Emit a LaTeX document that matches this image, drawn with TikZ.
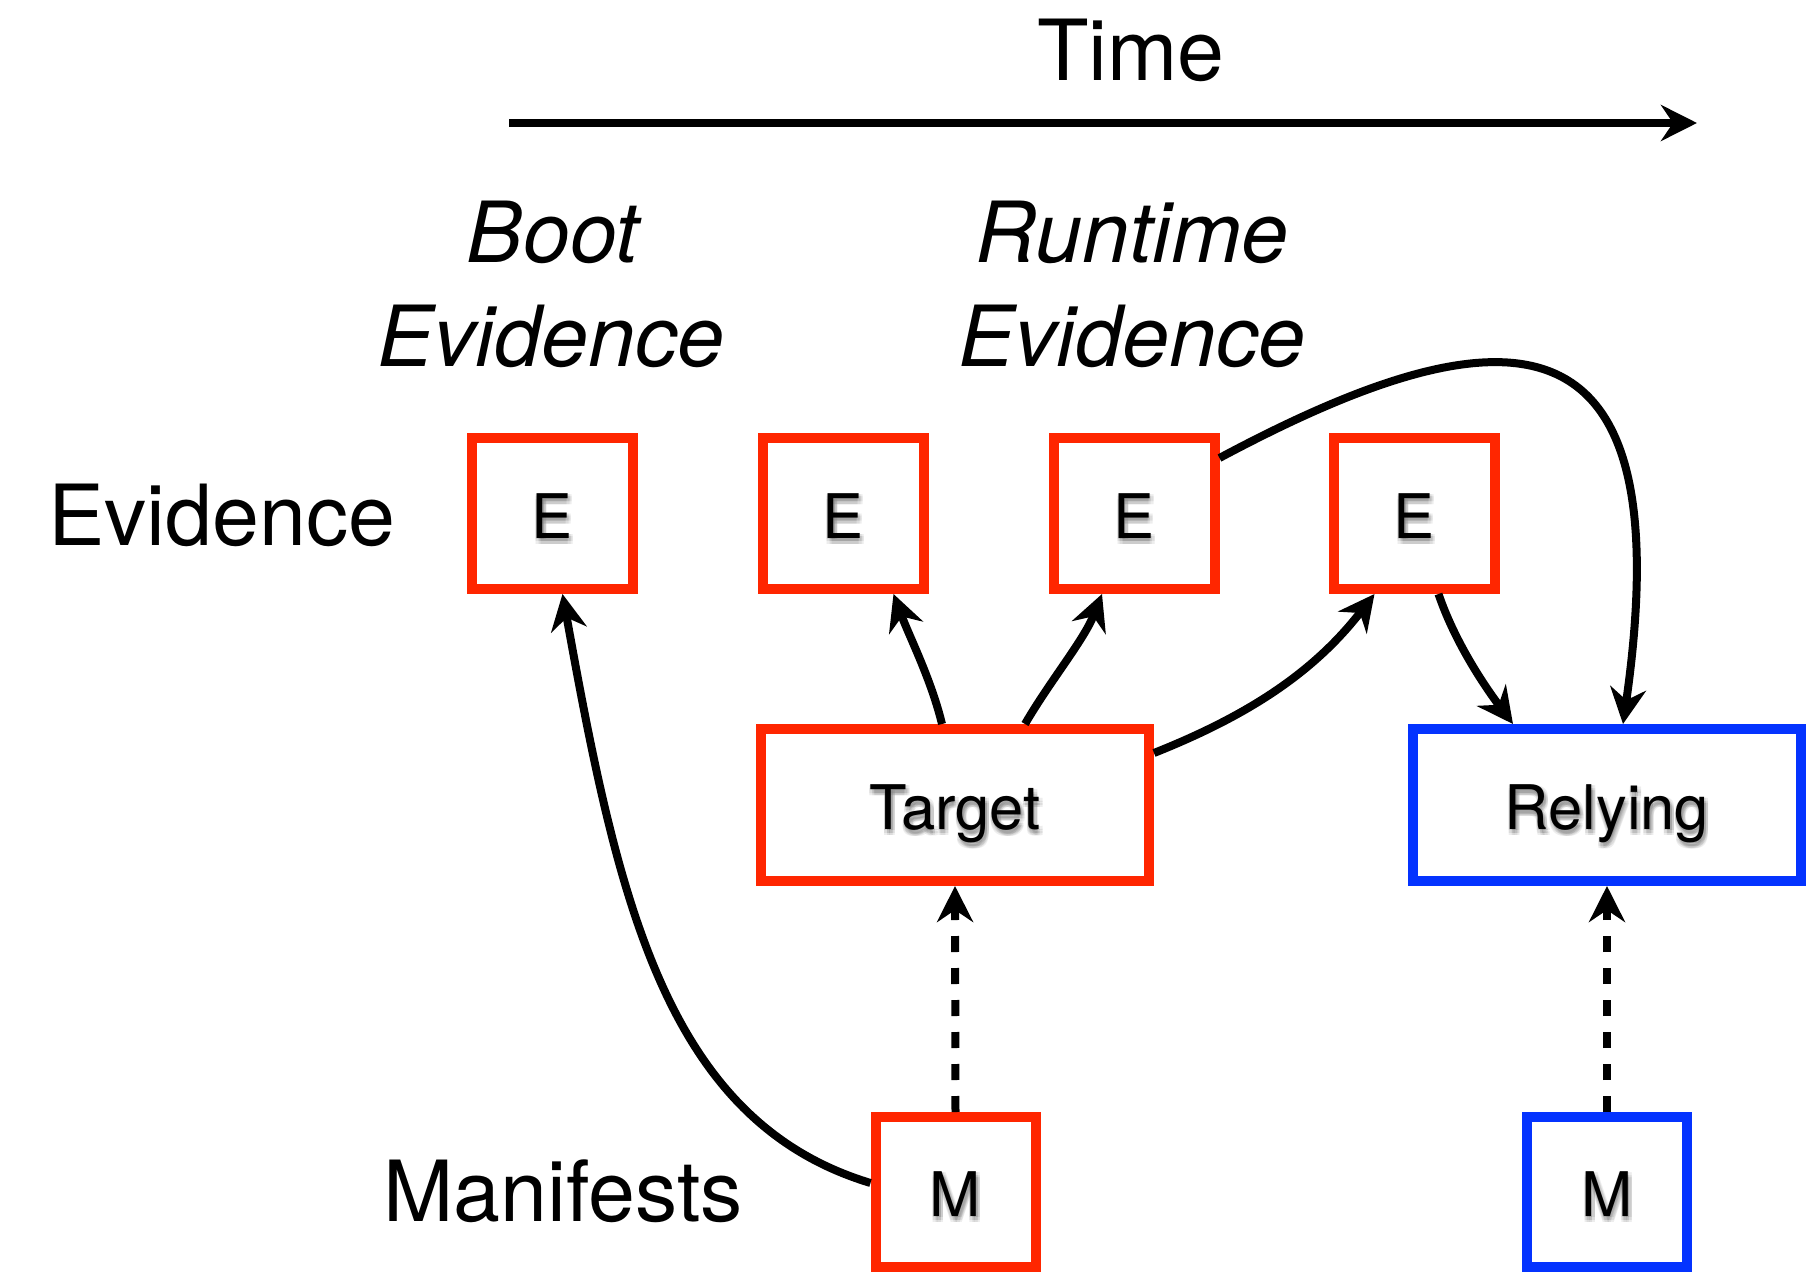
\documentclass[tikz,border=0pt]{standalone}
\usepackage{fontspec}
\setmainfont{TeX Gyre Heros}
\usetikzlibrary{arrows.meta,calc}
\definecolor{kred}{RGB}{255,38,0}
\definecolor{kblue}{RGB}{4,51,255}

% soft drop shadow under the text of a box: nine faint offset copies
\newcommand\boxshadow[2]{%
  \foreach \sx [count=\i] in {-1,1.5,4}{%
    \foreach \sy [count=\j] in {1,3.5,6}{%
      \node[shadowcopy] (#1sh\i\j) at ([shift={(\sx,\sy)}]#1.center) {#2};}}}

\begin{document}
\begin{tikzpicture}[x=0.1mm,y=-0.1mm,
  bigtext/.style={font=\fontsize{24}{29}\selectfont, inner sep=0pt, anchor=base},
  bigital/.style={font=\fontsize{24}{29}\selectfont\itshape, inner sep=0pt, anchor=base},
  boxtext/.style={font=\fontsize{17.5}{21}\selectfont, text height=14pt, text depth=0pt, inner sep=0pt},
  shadowcopy/.style={boxtext, text=black, text opacity=0.07},
  smallbox/.style={boxtext, line width=1mm, minimum width=16.1mm, minimum height=15.1mm},
  mbox/.style={boxtext, line width=1mm, minimum width=16mm, minimum height=15mm},
  widebox/.style={boxtext, line width=1mm, minimum width=38.8mm, minimum height=15.2mm},
  conn/.style={draw, line width=0.8mm, -{Stealth[length=3.6mm,width=3.6mm,inset=1.2mm]}},
  dashconn/.style={conn, dash pattern=on 1.6mm off 1.6mm}]

\useasboundingbox (0,0) rectangle (1810,1272);

% time axis
\node[bigtext] (time) at (1131,81) {Time};
\coordinate (t0) at (509,123);
\coordinate (t1) at (1697,123);
\draw[conn] (t0) -- (t1);

% column headings
\node[bigital] (boot1) at (553,263) {Boot};
\node[bigital] (boot2) at (551,367) {Evidence};
\node[bigital] (run1) at (1132,263) {Runtime};
\node[bigital] (run2) at (1132,367) {Evidence};

% row labels
\node[bigtext] (lev) at (222,545) {Evidence};
\node[bigtext] (lman) at (563,1221) {Manifests};

% evidence
\node[smallbox, draw=kred] (e1) at (552.5,513.5) {E};
\node[smallbox, draw=kred] (e2) at (843.5,513.5) {E};
\node[smallbox, draw=kred] (e3) at (1134,513.5) {E};
\node[smallbox, draw=kred] (e4) at (1414.5,513.5) {E};

% parties
\node[widebox, draw=kred] (target) at (955,805) {Target};
\node[widebox, draw=kblue] (relying) at (1607,805) {Relying};

% manifests
\node[mbox, draw=kred] (m1) at (955.5,1192) {M};
\node[mbox, draw=kblue] (m2) at (1607,1192) {M};

\boxshadow{e1}{E}
\boxshadow{e2}{E}
\boxshadow{e3}{E}
\boxshadow{e4}{E}
\boxshadow{target}{Target}
\boxshadow{relying}{Relying}
\boxshadow{m1}{M}
\boxshadow{m2}{M}

% boot evidence from the manifest
\draw[conn] ($(m1.west)+(0,-9)$) .. controls +(-205,-62) and +(55,305) .. ($(e1.south)+(10,0)$);

% runtime evidence produced by the target
\draw[conn] ($(target.north)+(-13,0)$) .. controls +(-11,-45) and +(16,43) .. ($(e2.south)+(50,0)$);
\draw[conn] ($(target.north)+(70,0)$) .. controls +(25,-43) and +(-18,46) .. ($(e3.south)+(-32,0)$);
\draw[conn] ($(target.north east)+(0,29)$) .. controls +(93,-37) and +(-61,79) .. ($(e4.south)+(-40,0)$);

% evidence consumed by the relying party
\draw[conn] ($(e3.north east)+(0,25)$) .. controls +(290,-155) and +(60,-420) .. ($(relying.north)+(16,0)$);
\draw[conn] ($(e4.south)+(24,0)$) .. controls +(16,47) and +(-30,-40) .. ($(relying.north)+(-94,0)$);

% manifests configure the parties
\draw[dashconn] (m1.north) -- (target.south);
\draw[dashconn] (m2.north) -- (relying.south);

\end{tikzpicture}
\end{document}
